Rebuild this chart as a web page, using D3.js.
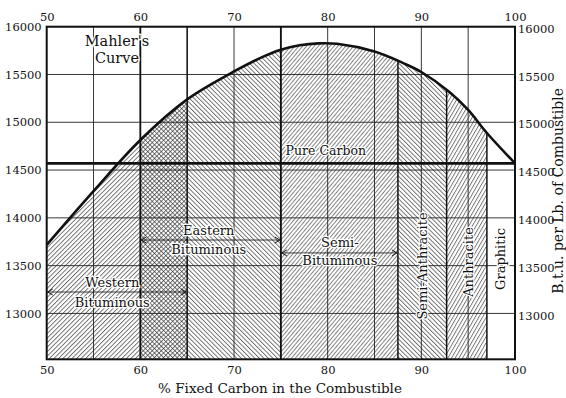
<!DOCTYPE html>
<html>
<head>
<meta charset="utf-8">
<script src="https://cdn.jsdelivr.net/npm/d3@7"></script>
<style>
  body { margin: 0; background: #fff; }
  text { font-family: "DejaVu Serif", serif; fill: #111; }
</style>
</head>
<body>
<svg id="chart" width="566" height="398"></svg>
<script>
// Mahler's curve: heating value of the combustible vs. fixed carbon
const carbonPct = [50, 55, 60, 65, 70, 73, 75, 77, 79, 81, 85, 88, 90, 93, 95, 97, 100];
const btuPerLb  = [13717, 14280, 14815, 15240, 15532, 15682, 15760, 15806, 15826, 15821, 15740, 15622, 15526, 15317, 15129, 14888, 14570];

// Heating value of pure carbon
const pureCarbonBtu = 14570;

// Coal classes by fixed-carbon range
const classNames = ["Western Bituminous", "Eastern Bituminous", "Semi-Bituminous", "Semi-Anthracite", "Anthracite", "Graphitic"];
const classFrom  = [50, 60, 75, 87.5, 92.7, 97];
const classTo    = [65, 75, 87.5, 92.7, 97, 100];

// Axis ticks
const xTickLabels = [50, 60, 70, 80, 90, 100];
const yTickLabels = [13000, 13500, 14000, 14500, 15000, 15500, 16000];

const svg = d3.select("#chart");
const pL = 46.7, pR = 515, pT = 26.7, pB = 359.3;

const x = d3.scaleLinear().domain([50, 100]).range([pL, pR]);
const y = d3.scaleLinear().domain([12520, 16000]).range([pB, pT]);

// hatch patterns: angle (deg), spacing, stroke width
const hatchStyle = {
  "Western Bituminous": {angle: 45, gap: 3.2, w: 0.75},
  "Eastern Bituminous": {angle: -45, gap: 3.2, w: 0.75},
  "Semi-Bituminous":    {angle: 40, gap: 3.0, w: 0.6},
  "Semi-Anthracite":    {angle: -45, gap: 3.2, w: 0.75},
  "Anthracite":         {angle: 30, gap: 3.2, w: 0.7},
  "Graphitic": null
};

const defs = svg.append("defs");
classNames.forEach((name, i) => {
  const s = hatchStyle[name];
  if (!s) return;
  const p = defs.append("pattern")
    .attr("id", "hatch" + i)
    .attr("patternUnits", "userSpaceOnUse")
    .attr("width", s.gap).attr("height", 10)
    .attr("patternTransform", `rotate(${s.angle})`);
  p.append("line").attr("x1", 0.5).attr("y1", 0).attr("x2", 0.5).attr("y2", 10)
    .attr("stroke", "#333").attr("stroke-width", s.w);
});

// region under the curve
const pts = carbonPct.map((c, i) => [c, btuPerLb[i]]);
const smooth = d3.curveCatmullRom.alpha(0.5);
const area = d3.area()
  .x(d => x(d[0])).y0(pB).y1(d => y(d[1]))
  .curve(smooth);
defs.append("clipPath").attr("id", "underCurve")
  .append("path").attr("d", area(pts));

const hatchG = svg.append("g").attr("clip-path", "url(#underCurve)");
classNames.forEach((name, i) => {
  if (!hatchStyle[name]) return;
  hatchG.append("rect")
    .attr("x", x(classFrom[i])).attr("y", pT)
    .attr("width", x(classTo[i]) - x(classFrom[i])).attr("height", pB - pT)
    .attr("fill", `url(#hatch${i})`);
});

// grid
const grid = svg.append("g").attr("stroke", "#222").attr("stroke-width", 0.9);
d3.range(55, 100, 5).forEach(v => {
  grid.append("line").attr("x1", x(v)).attr("x2", x(v)).attr("y1", pT).attr("y2", pB);
});
yTickLabels.forEach(v => {
  grid.append("line").attr("x1", pL).attr("x2", pR).attr("y1", y(v)).attr("y2", y(v));
});

// class boundaries
const curveAt = d3.scaleLinear().domain(carbonPct).range(btuPerLb);
const bounds = svg.append("g").attr("stroke", "#111");
[60, 75].forEach(v => bounds.append("line").attr("x1", x(v)).attr("x2", x(v))
  .attr("y1", pT).attr("y2", pB).attr("stroke-width", 1.8));
[65].forEach(v => bounds.append("line").attr("x1", x(v)).attr("x2", x(v))
  .attr("y1", pT).attr("y2", pB).attr("stroke-width", 1.3));
classFrom.slice(3).forEach(v => {
  bounds.append("line").attr("x1", x(v)).attr("x2", x(v))
    .attr("y1", y(curveAt(v)))
    .attr("y2", pB).attr("stroke-width", 1.5);
});

// frame
svg.append("rect").attr("x", pL).attr("y", pT)
  .attr("width", pR - pL).attr("height", pB - pT)
  .attr("fill", "none").attr("stroke", "#111").attr("stroke-width", 2);

// pure carbon line
svg.append("line").attr("x1", pL).attr("x2", pR)
  .attr("y1", y(pureCarbonBtu)).attr("y2", y(pureCarbonBtu))
  .attr("stroke", "#111").attr("stroke-width", 2.6);

// Mahler's curve
svg.append("path")
  .attr("d", d3.line().x(d => x(d[0])).y(d => y(d[1])).curve(smooth)(pts))
  .attr("fill", "none").attr("stroke", "#111").attr("stroke-width", 2.6);

// axes tick labels
const axFont = 11.5;
const fmt = d3.format("d");
const xTop = d3.axisTop(x).tickValues(xTickLabels).tickFormat(fmt).tickSize(0).tickPadding(6);
const xBot = d3.axisBottom(x).tickValues(xTickLabels).tickFormat(fmt).tickSize(0).tickPadding(7);
const yL = d3.axisLeft(y).tickValues(yTickLabels).tickFormat(fmt).tickSize(0).tickPadding(4);
const yR = d3.axisRight(y).tickValues(yTickLabels).tickFormat(fmt).tickSize(0).tickPadding(3);
function styleAxis(g) {
  g.select(".domain").remove();
  g.selectAll("text").attr("font-family", '"DejaVu Serif", serif').attr("font-size", axFont).attr("fill", "#111");
}
svg.append("g").attr("transform", `translate(0,${pT})`).call(xTop).call(styleAxis);
svg.append("g").attr("transform", `translate(0,${pB})`).call(xBot).call(styleAxis);
svg.append("g").attr("transform", `translate(${pL - 1},0)`).call(yL).call(styleAxis);
svg.append("g").attr("transform", `translate(${pR},2)`).call(yR).call(styleAxis);

// axis titles
svg.append("text").attr("x", 280).attr("y", 393).attr("text-anchor", "middle")
  .attr("font-size", 13.5).text("% Fixed Carbon in the Combustible");

// right title, narrowed to sit between the 13000 and 15500 lines
const yTitle = svg.append("text")
  .attr("text-anchor", "middle")
  .attr("font-size", 14)
  .text("B.t.u. per Lb. of Combustible");
const titleSpan = y(13000) - y(15500) - 11;
const natural = yTitle.node().getComputedTextLength();
const squeeze = Math.min(1, titleSpan / natural);
yTitle.attr("transform", `translate(563,${(y(13000) + y(15500)) / 2 - 3}) rotate(-90) scale(${squeeze},1)`);

// labels with white halo
function label(tx, ty, str, size, rot) {
  return svg.append("text")
    .attr("transform", `translate(${tx},${ty})` + (rot ? ` rotate(${rot})` : ""))
    .attr("text-anchor", "middle").attr("dominant-baseline", "central")
    .attr("font-size", size)
    .attr("stroke", "#fff").attr("stroke-width", 2.5).attr("paint-order", "stroke")
    .text(str);
}
label(x(57.5), 41, "Mahler's", 14.5);
label(x(57.5), 58, "Curve", 14.5);
label(x(79.8), y(pureCarbonBtu) - 13, "Pure Carbon", 12.5);

// range arrows
defs.append("marker").attr("id", "arrowhead")
  .attr("viewBox", "-6 -4 8 8").attr("markerWidth", 8).attr("markerHeight", 8)
  .attr("refX", 0).attr("refY", 0).attr("orient", "auto-start-reverse")
  .attr("markerUnits", "userSpaceOnUse")
  .append("path").attr("d", "M-5,-3L0,0L-5,3").attr("fill", "none")
  .attr("stroke", "#111").attr("stroke-width", 1);

function rangeArrow(i, btu) {
  svg.append("line")
    .attr("x1", x(classFrom[i]) + 1).attr("x2", x(classTo[i]) - 1)
    .attr("y1", y(btu)).attr("y2", y(btu))
    .attr("stroke", "#111").attr("stroke-width", 0.8)
    .attr("marker-start", "url(#arrowhead)").attr("marker-end", "url(#arrowhead)");
}
rangeArrow(0, 13224);
rangeArrow(1, 13768);
rangeArrow(2, 13633);

const [wWord, wRest] = classNames[0].split(" ");
label(x(57), y(13224) - 10, wWord, 13);
label(x(57), y(13224) + 10, wRest, 13);
const [eWord, eRest] = classNames[1].split(" ");
label(x(67.3), y(13768) - 10, eWord, 13);
label(x(67.3), y(13768) + 9, eRest, 13);
label(x(81.3), y(13633) - 10, "Semi-", 13);
label(x(81.3), y(13633) + 8, "Bituminous", 13);

label(x((classFrom[3] + classTo[3]) / 2), 266, classNames[3], 13, -90);
label(x((classFrom[4] + classTo[4]) / 2) + 2, 262, classNames[4], 13, -90);
label(x((classFrom[5] + classTo[5]) / 2), 259, classNames[5], 13, -90);
</script>
</body>
</html>
